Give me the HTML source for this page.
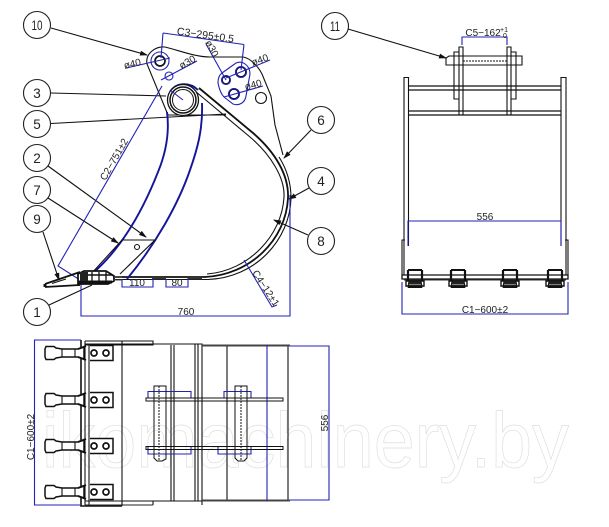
<!DOCTYPE html>
<html><head><meta charset="utf-8"><style>
html,body{margin:0;padding:0;background:#fff}
svg{display:block}
text{font-family:"Liberation Sans",sans-serif;fill:#222}
.k{fill:none;stroke:#111;stroke-width:1.100}
.h{fill:none;stroke:#111;stroke-width:1.700}
.b{fill:none;stroke:#2222b8;stroke-width:1.100}
.B{fill:none;stroke:#14149a;stroke-width:1.900}
.c{fill:#fff;stroke:#222;stroke-width:1.100}
.n{font-size:13.500px;text-anchor:middle}
.d{font-size:10px;text-anchor:middle}
.w{font-size:78px;fill:#fff;stroke:#dedede;stroke-width:.7}
</style></head><body>
<svg width="609" height="527" viewBox="0 0 609 527" xmlns="http://www.w3.org/2000/svg">
<defs>
<marker id="a" markerWidth="8" markerHeight="6" refX="7" refY="3" orient="auto" markerUnits="userSpaceOnUse"><path d="M0 .5L8 3L0 5.500z" fill="#111"/></marker>
<g id="fang">
<path d="M46 -6.500H54L56 -5L62 -4H78L84 -6V6L78 4H62L56 5L54 6.500H46L45 4V-4Z" fill="#fff" stroke="#111" stroke-width="1.500"/>
<path d="M62 -4V4M75 -4V4" class="k"/>
<path d="M78 -4L86 -7M78 4L86 7" stroke="#111" stroke-width="2"/>
<path d="M90 -7.500H113V7.500H90" fill="#fff" stroke="#111" stroke-width="1.500"/>
<circle cx="94" cy="0" r="3" class="h"/><circle cx="106" cy="0" r="3" class="h"/>
</g>
<g id="ft">
<path d="M-7 -8H7" stroke="#111" stroke-width="2"/>
<path d="M-7 -8V3M7 -8V3" stroke="#111" stroke-width="2.200"/>
<path d="M-5 -3H5M-5 3H5" stroke="#111" stroke-width="1"/>
<path d="M-9 3H9V8H-9Z" fill="#fff" stroke="#111" stroke-width="1.400"/>
<path d="M-6 3H6L7 9H-7Z" fill="#222" stroke="#111"/>
<path d="M-7 9H7" stroke="#111" stroke-width="2"/>
<path d="M-6 6.500H6" stroke="#999" stroke-width=".8"/>
</g>
</defs>

<!-- watermark -->
<text class="w" x="42" y="467" textLength="527" lengthAdjust="spacingAndGlyphs">ikomachinery.by</text>

<!-- bubbles -->
<circle class="c" cx="37" cy="25" r="13.500"/><circle class="c" cx="37" cy="93" r="13.500"/><circle class="c" cx="37" cy="124" r="13.500"/><circle class="c" cx="37" cy="158" r="13.500"/><circle class="c" cx="37" cy="190" r="13.500"/><circle class="c" cx="37" cy="219" r="13.500"/><circle class="c" cx="37" cy="312" r="13.500"/><circle class="c" cx="321" cy="120" r="13.500"/><circle class="c" cx="321" cy="181" r="13.500"/><circle class="c" cx="321" cy="241" r="13.500"/><circle class="c" cx="335" cy="26" r="13.500"/>
<text class="n" x="37" y="30" textLength="11" lengthAdjust="spacingAndGlyphs">10</text><text class="n" x="37" y="98">3</text><text class="n" x="37" y="129">5</text><text class="n" x="37" y="163">2</text><text class="n" x="37" y="195">7</text><text class="n" x="37" y="224">9</text><text class="n" x="37" y="317">1</text><text class="n" x="321" y="125">6</text><text class="n" x="321" y="186">4</text><text class="n" x="321" y="246">8</text><text class="n" x="335" y="31" textLength="10" lengthAdjust="spacingAndGlyphs">11</text>

<!-- leaders -->
<g class="k">
<path d="M51 28L147 55" marker-end="url(#a)"/>
<path d="M51 93L166 96"/>
<path d="M51 123.500L226 114"/>
<path d="M190 114L182 114" marker-end="url(#a)"/>
<path d="M48 166L146 237" marker-end="url(#a)"/>
<path d="M48 198L118 243" marker-end="url(#a)"/>
<path d="M43 232L59 280" marker-end="url(#a)"/>
<path d="M49 305L92 285"/>
<path d="M311 130L284 158" marker-end="url(#a)"/>
<path d="M309 188L289 199" marker-end="url(#a)"/>
<path d="M308 235L274 220" marker-end="url(#a)"/>
<path d="M348 29L446 58" marker-end="url(#a)"/>
</g>

<!-- ear plate -->
<g class="k">
<path d="M168 115L147 64C145 54 155 46 165 47C178 50 195 57 210 57H243C250 58 258 66 262 74L271 96L275 125L283 155"/>
<path d="M168 115H226"/>
<circle cx="261" cy="98" r="5.500"/>
</g>
<!-- shell -->
<path d="M199 88L253 133C275 152 289 175 288 198C286 240 250 275 205 277H115" fill="none" stroke="#111" stroke-width="1.800"/>
<path d="M195 91L250 137C271 155 285 178 284 197C282 236 248 271 207 274" fill="none" stroke="#111" stroke-width="1.100"/>
<path d="M115 279.500H208C255 278 290 240 291 198C291 182 286 168 279 157" fill="none" stroke="#111" stroke-width="1.100"/>
<path d="M152 276H166V279.500H152ZM188 276H202V279.500H188Z" fill="#333"/>

<!-- side plate blue -->
<path class="B" d="M167 112C170 135 165 155 158 172C145 205 125 245 93 273"/>
<path class="B" d="M202 103C203 130 197 150 190 170C178 205 155 245 127 279"/>
<path class="B" d="M170 92C176 82 190 82 198 90"/>

<!-- wear plate -->
<g class="k">
<path d="M91 274L122 240H155L120 274"/><circle cx="137" cy="247" r="2.500"/>
</g>

<!-- pin -->
<circle cx="183" cy="100" r="15.500" fill="#fff" stroke="#111" stroke-width="1.300"/>
<circle cx="183" cy="100" r="13" fill="none" stroke="#111" stroke-width="1.500"/>
<circle cx="183" cy="100" r="10.500" fill="none" stroke="#111"/>
<path class="b" d="M170 90L183 100"/>

<!-- holes -->
<circle cx="160" cy="61" r="5" class="h"/><circle cx="160" cy="61" r="9" class="b" stroke-width="1.300"/>
<circle cx="169" cy="76" r="4" class="b"/>
<circle cx="241" cy="72" r="5" class="h"/><circle cx="226" cy="80" r="4" class="h"/><circle cx="234" cy="94" r="5" class="h"/>
<circle cx="241" cy="72" r="5.500" class="b"/><circle cx="226" cy="80" r="4.500" class="b"/><circle cx="234" cy="94" r="5.500" class="b"/>
<path class="b" stroke-width="1.300" d="M222 73L236 63C243 60 250 66 250 74L246 96C245 103 239 106 233 104L224 97C221 94 219 88 218 83C218 78 219 75 222 73Z"/>

<!-- blue dims side -->
<g class="b">
<path d="M163 33L244 44.500M163 33L161 58M244 44.500L241 70"/>
<path d="M126 68L170 58"/><path d="M161 80L197 61"/><path d="M206 44L226 80"/>
<path d="M226 78L270 60"/><path d="M224 97L263 86"/>
<path d="M162 86L58 266L80 280"/>
<path d="M122 279V287H153V278M166 279V287H188V278"/>
<path d="M81 280V316H290V195"/>
<path d="M244 260L272 307L277 305"/>
</g>
<g class="d">
<text transform="translate(205 38.500) rotate(8)" font-size="10.500">C3−295±0.5</text>
<text transform="translate(133 67) rotate(-13)">ø40</text>
<text transform="translate(189 65) rotate(-30)">ø30</text>
<text transform="translate(209 50) rotate(62)">ø30</text>
<text transform="translate(261 63) rotate(-20)">ø40</text>
<text transform="translate(254 88) rotate(-15)">ø40</text>
<text transform="translate(117 161) rotate(-60)">C2−751±2</text>
<text x="137" y="286">110</text><text x="177" y="286">80</text><text x="186" y="315">760</text>
<text transform="translate(263 290) rotate(57)">C4−12±1</text>
</g>

<!-- tooth side -->
<path d="M45 284L80 272M45 287L80 285" stroke="#111" stroke-width="1.800" fill="none"/>
<path d="M45 284L45 287" stroke="#111" stroke-width="3"/>
<path d="M52 283.500L66 279" stroke="#111" stroke-width="1"/>
<path d="M78 274L84 271H106L114 276V281L108 284H78Z" fill="#fff" stroke="#111" stroke-width="1.800"/>
<path d="M78 282H112" stroke="#111" stroke-width="3"/>
<path d="M80 275H112" stroke="#111" stroke-width="1.500"/>
<path d="M80 272H88V281H80Z" fill="#222"/>
<path d="M92 272V284M99 272V284M106 272V284" stroke="#111" stroke-width="1.300"/>
<path d="M114 277H122M114 280H122" stroke="#444"/>

<!-- front view -->
<g class="k">
<path d="M404 275V77.500H408.500V246M561 246V77.500H566V275"/>
<path d="M408.500 86H561M408.500 90H561M408.500 111H561M408.500 115H561" stroke-width="1.200"/>
<path d="M459 115V47H463V115ZM507 115V47H511V115Z"/>
<path d="M459 52H454V99H459M511 52H516V99H511"/>
<path d="M454 56H522V65H454M454 65H446V58L449 56H454"/>
<path d="M402 275V240H405M568 275V240H565"/>
</g>
<path d="M463 61H507" stroke="#111" stroke-width="1" stroke-dasharray="2 1"/>
<path d="M402 275H568V279H402Z" fill="#fff" stroke="#111" stroke-width="1.300"/><path d="M404 280H566" stroke="#333"/>
<use href="#ft" x="415" y="278"/><use href="#ft" x="458" y="278"/><use href="#ft" x="510" y="278"/><use href="#ft" x="555" y="278"/>
<g class="b">
<path d="M462 45V37H507V45"/>
<path d="M408 246V221H561V246"/>
<path d="M402 282V314H568V282"/>
</g>
<g class="d">
<text x="483" y="36">C5−162</text><text x="504" y="32" font-size="7">+1</text><text x="505" y="38" font-size="7">0</text>
<text x="485" y="220">556</text>
<text x="485" y="313">C1−600±2</text>
</g>

<!-- bottom view -->
<g class="k">
<path d="M85 341H153V345H85M85 341V505M122 341V506"/>
<path d="M153 505V501M85 344H202V505"/>
<path d="M195 344V501M198 344V501M171 345V501M174 345V501M227 345V501M288 345V501"/>
<path d="M85 501H202M89 345V505"/>
</g>
<path d="M81 340V506H122" fill="none" stroke="#111" stroke-width="1.600"/>
<path d="M202 345.500H290M202 500.500H290" stroke="#444" stroke-width="2"/>
<path d="M85 505H153" stroke="#222"/>
<use href="#fang" y="353"/><use href="#fang" y="400"/><use href="#fang" y="446"/><use href="#fang" y="492"/>
<g class="b" stroke-width="1.300">
<path d="M148 398V391.500H191V398M224 398V391.500H251V398M148 447V454H191V447M218 447V454H251V447"/>
<path d="M267 345V501"/>
<path d="M81 340H34.500V505H81"/>
<path d="M290 346H329V500H290"/>
</g>
<g fill="#fff" stroke="#111">
<path d="M146 398H283V401H146ZM146 446.500H283V449.500H146Z" fill="none"/>
<path d="M154 386H166V454L166 459L162 461H157L154 458Z" fill="none"/>
<path d="M235 386H247V458L244 461H238L235 458Z" fill="none"/>
<path d="M159 386V461M241 386V461" stroke-dasharray="2 1" fill="none"/>
</g>
<g class="d">
<text transform="translate(34 437) rotate(-90)">C1−600±2</text>
<text transform="translate(328 423) rotate(-90)">556</text>
</g>
</svg>
</body></html>
